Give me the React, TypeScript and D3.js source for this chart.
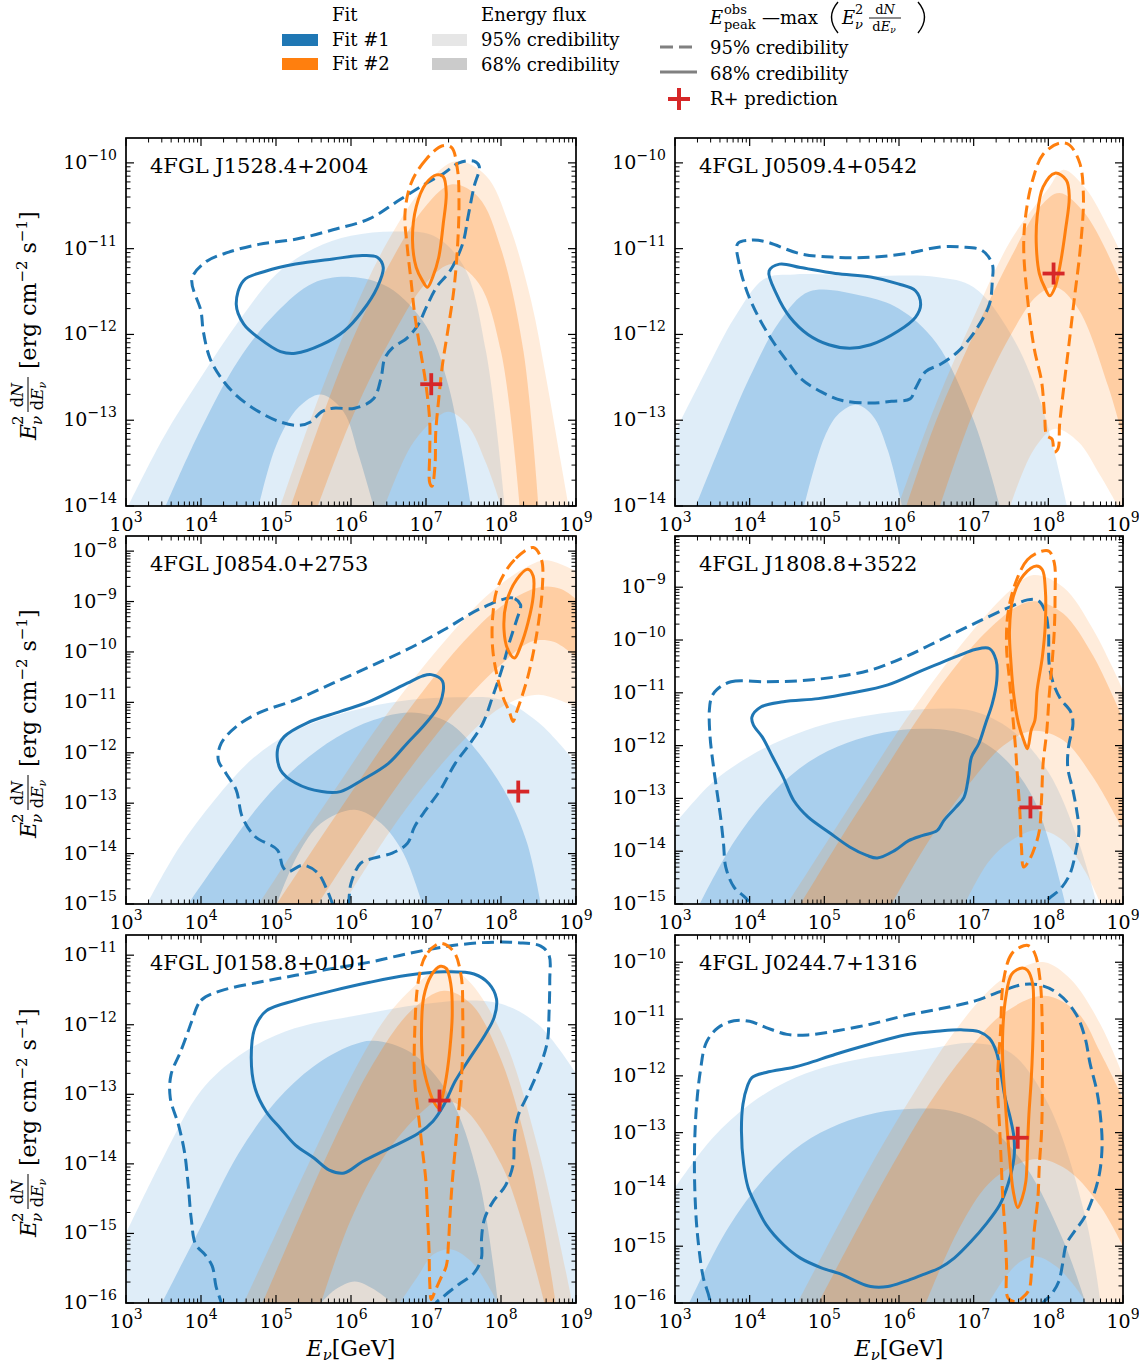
import React from "react";
import * as d3 from "d3";

type P = [number, number]; // [log10 E_nu / GeV, log10 flux / erg cm^-2 s^-1]

const FONT = "'DejaVu Serif', serif";
const BLUE = "#1f77b4";
const BAND_BLUE = "#1a7fcf";
const ORANGE = "#ff7f0e";
const RED = "#d62728";

const xTickExps = [3, 4, 5, 6, 7, 8, 9];

// ---------------- Panel 1 ----------------
const p1Name = "4FGL J1528.4+2004";
const p1YLog: P = [-14, -9.71];
const p1B95U: P[] = [[3.03,-14],[3.5,-13.2],[4,-12.5],[4.5,-11.85],[5,-11.3],[5.5,-11.0],[6,-10.85],[6.6,-10.8],[7.1,-10.85],[7.5,-11.2],[7.8,-12.2],[8.05,-14]];
const p1B68U: P[] = [[3.53,-14],[4,-13.1],[4.5,-12.3],[5,-11.75],[5.5,-11.4],[6,-11.33],[6.5,-11.45],[7,-11.9],[7.3,-12.6],[7.6,-14]];
const p1B68L: P[] = [[4.77,-14],[5.0,-13.3],[5.3,-12.85],[5.6,-12.7],[5.9,-12.9],[6.1,-13.4],[6.3,-14]];
const p1O95U: P[] = [[5.06,-14],[5.5,-12.9],[6,-11.8],[6.5,-10.9],[7,-10.25],[7.4,-9.98],[7.8,-10.15],[8.1,-10.7],[8.4,-11.6],[8.6,-12.5],[8.8,-13.5],[8.9,-14]];
const p1O95L: P[] = [[6.45,-14],[6.8,-13.3],[7.1,-13.0],[7.3,-12.9],[7.55,-13.05],[7.8,-13.5],[8.0,-14]];
const p1O68U: P[] = [[5.2,-14],[5.6,-13.0],[6,-12.1],[6.5,-11.2],[7,-10.5],[7.35,-10.25],[7.7,-10.4],[8.0,-11.0],[8.3,-12.2],[8.5,-14]];
const p1O68L: P[] = [[5.56,-14],[6,-13.0],[6.5,-12.1],[7,-11.4],[7.35,-11.18],[7.7,-11.4],[8.0,-12.2],[8.25,-14]];
const p1BlueDash: P[] = [[3.88,-11.35],[4.07,-11.15],[4.37,-11.04],[4.77,-10.95],[5.26,-10.89],[5.76,-10.78],[6.25,-10.65],[6.65,-10.43],[7.0,-10.24],[7.24,-10.12],[7.44,-10.0],[7.64,-9.98],[7.71,-10.04],[7.64,-10.28],[7.56,-10.63],[7.49,-10.94],[7.32,-11.26],[7.14,-11.45],[7.0,-11.69],[6.9,-11.88],[6.75,-12.04],[6.55,-12.16],[6.45,-12.28],[6.4,-12.51],[6.3,-12.75],[6.05,-12.86],[5.76,-12.86],[5.61,-12.9],[5.46,-13.02],[5.31,-13.06],[5.06,-13.02],[4.77,-12.9],[4.47,-12.71],[4.27,-12.51],[4.12,-12.28],[4.03,-11.96],[4.0,-11.73]];
const p1BlueSolid: P[] = [[4.47,-11.65],[4.57,-11.37],[4.87,-11.26],[5.26,-11.18],[5.76,-11.12],[6.15,-11.08],[6.35,-11.1],[6.43,-11.22],[6.35,-11.45],[6.15,-11.73],[5.91,-11.96],[5.61,-12.12],[5.26,-12.22],[5.06,-12.2],[4.77,-12.04],[4.57,-11.88]];
const p1OrangeDash: P[] = [[7.22,-9.8],[7.0,-9.96],[6.8,-10.24],[6.72,-10.59],[6.75,-10.98],[6.8,-11.37],[6.85,-11.77],[6.92,-12.16],[7.0,-12.59],[7.05,-13.02],[7.05,-13.37],[7.05,-13.73],[7.08,-13.77],[7.12,-13.53],[7.13,-13.14],[7.17,-12.75],[7.22,-12.35],[7.29,-11.96],[7.37,-11.49],[7.42,-10.98],[7.44,-10.47],[7.42,-10.08],[7.34,-9.82]];
const p1OrangeSolid: P[] = [[7.14,-10.14],[7.0,-10.24],[6.87,-10.51],[6.82,-10.9],[6.87,-11.22],[6.95,-11.37],[7.02,-11.45],[7.09,-11.33],[7.17,-11.1],[7.23,-10.71],[7.27,-10.35],[7.23,-10.16]];
const p1Cross: P = [7.07, -12.58];

// ---------------- Panel 2 ----------------
const p2Name = "4FGL J0509.4+0542";
const p2YLog: P = [-14, -9.71];
const p2B95U: P[] = [[3.0,-13.14],[3.4,-12.45],[3.8,-11.8],[4.2,-11.35],[4.6,-11.3],[5.5,-11.32],[6.5,-11.33],[7.0,-11.45],[7.5,-12.0],[7.9,-12.8],[8.25,-14]];
const p2B68U: P[] = [[3.28,-14],[3.7,-13.1],[4.0,-12.5],[4.4,-11.85],[4.8,-11.5],[5.5,-11.55],[6.0,-11.7],[6.5,-12.1],[7.0,-13.0],[7.35,-14]];
const p2B68L: P[] = [[4.73,-14],[5.0,-13.2],[5.2,-12.92],[5.43,-12.82],[5.65,-12.95],[5.85,-13.35],[6.04,-14]];
const p2O95U: P[] = [[5.99,-14],[6.5,-12.8],[7.0,-11.8],[7.5,-10.9],[8.0,-10.3],[8.2,-10.08],[8.5,-10.3],[8.8,-10.75],[9.0,-11.1]];
const p2O95L: P[] = [[7.49,-14],[7.8,-13.35],[8.09,-13.1],[8.4,-13.25],[8.7,-13.65],[8.93,-14]];
const p2O68U: P[] = [[6.1,-14],[6.5,-13.0],[7.0,-12.0],[7.5,-11.1],[7.9,-10.5],[8.15,-10.35],[8.5,-10.6],[9.0,-11.45]];
const p2O68L: P[] = [[6.55,-14],[7.0,-12.9],[7.5,-12.0],[7.85,-11.55],[8.1,-11.45],[8.4,-11.7],[8.8,-12.6],[9.0,-13.2]];
const p2BlueDash: P[] = [[3.84,-10.94],[4.03,-10.9],[4.22,-10.92],[4.68,-11.06],[5.15,-11.1],[5.62,-11.1],[6.08,-11.06],[6.55,-10.98],[6.83,-10.98],[7.11,-11.02],[7.25,-11.18],[7.25,-11.37],[7.21,-11.65],[7.02,-11.96],[6.79,-12.2],[6.55,-12.35],[6.36,-12.43],[6.22,-12.63],[6.15,-12.75],[5.9,-12.78],[5.62,-12.8],[5.24,-12.77],[4.96,-12.67],[4.68,-12.51],[4.5,-12.31],[4.31,-12.08],[4.12,-11.8],[3.96,-11.49],[3.86,-11.18]];
const p2BlueSolid: P[] = [[4.26,-11.26],[4.4,-11.18],[4.68,-11.22],[5.15,-11.29],[5.62,-11.33],[5.99,-11.41],[6.22,-11.49],[6.29,-11.65],[6.22,-11.8],[5.99,-11.96],[5.62,-12.12],[5.34,-12.16],[5.06,-12.12],[4.78,-12.0],[4.54,-11.8],[4.36,-11.53]];
const p2OrangeDash: P[] = [[8.15,-9.77],[7.93,-9.9],[7.79,-10.2],[7.7,-10.59],[7.67,-10.98],[7.72,-11.57],[7.81,-12.16],[7.91,-12.55],[7.95,-12.94],[7.98,-13.18],[8.05,-13.22],[8.08,-13.37],[8.13,-13.33],[8.15,-13.06],[8.21,-12.59],[8.27,-12.16],[8.35,-11.57],[8.43,-10.98],[8.47,-10.39],[8.42,-10.0],[8.28,-9.79]];
const p2OrangeSolid: P[] = [[8.09,-10.12],[7.93,-10.28],[7.85,-10.63],[7.84,-10.98],[7.88,-11.29],[7.95,-11.45],[8.02,-11.55],[8.09,-11.45],[8.16,-11.18],[8.23,-10.78],[8.28,-10.39],[8.24,-10.2]];
const p2Cross: P = [8.07, -11.29];

// ---------------- Panel 3 ----------------
const p3Name = "4FGL J0854.0+2753";
const p3YLog: P = [-15, -7.7];
const p3B95U: P[] = [[3.28,-15],[3.7,-13.9],[4.2,-12.9],[4.7,-12.1],[5.2,-11.6],[5.7,-11.3],[6.2,-11.1],[6.8,-10.95],[7.4,-10.9],[8.0,-10.95],[8.5,-11.4],[9.0,-12.2]];
const p3B68U: P[] = [[3.83,-15],[4.3,-14.0],[4.8,-13.0],[5.3,-12.25],[5.8,-11.7],[6.3,-11.35],[6.8,-11.2],[7.3,-11.4],[7.7,-12.0],[8.1,-12.9],[8.35,-13.8],[8.53,-15]];
const p3B68L: P[] = [[5.01,-15],[5.3,-14.0],[5.6,-13.4],[6.05,-13.13],[6.4,-13.4],[6.7,-14.0],[6.95,-15]];
const p3O95U: P[] = [[4.77,-15],[5.3,-13.8],[5.8,-12.7],[6.3,-11.6],[6.8,-10.6],[7.3,-9.7],[7.8,-8.9],[8.3,-8.35],[8.6,-8.18],[9.0,-8.4]];
const p3O95L: P[] = [[5.9,-15],[6.5,-13.6],[7.0,-12.6],[7.5,-11.75],[8.0,-11.1],[8.5,-10.85],[9.0,-11.1]];
const p3O68U: P[] = [[5.01,-15],[5.5,-13.9],[6.0,-12.8],[6.5,-11.7],[7.0,-10.7],[7.5,-9.8],[8.0,-9.1],[8.5,-8.72],[8.8,-8.75],[9.0,-8.95]];
const p3O68L: P[] = [[5.56,-15],[6.0,-14.0],[6.5,-12.9],[7.0,-11.9],[7.5,-11.0],[8.0,-10.25],[8.4,-9.8],[8.7,-9.8],[9.0,-10.1]];
const p3BlueDash: P[] = [[8.26,-9.06],[8.16,-8.93],[7.74,-9.13],[7.24,-9.56],[6.75,-9.95],[6.25,-10.29],[5.76,-10.62],[5.26,-10.95],[4.77,-11.21],[4.47,-11.48],[4.27,-11.81],[4.23,-12.14],[4.33,-12.4],[4.47,-12.74],[4.55,-13.27],[4.72,-13.66],[5.02,-13.93],[5.09,-14.26],[5.16,-14.36],[5.36,-14.23],[5.56,-14.39],[5.68,-14.72],[5.76,-15.02],[5.86,-15.4],[5.96,-15.02],[6.0,-14.59],[6.13,-14.19],[6.3,-14.09],[6.55,-13.99],[6.75,-13.8],[6.85,-13.46],[7.0,-13.13],[7.19,-12.74],[7.39,-12.21],[7.59,-11.81],[7.76,-11.41],[7.89,-10.88],[8.01,-10.35],[8.11,-9.82],[8.21,-9.36],[8.26,-9.13]];
const p3BlueSolid: P[] = [[7.07,-10.45],[7.22,-10.58],[7.19,-11.01],[7.0,-11.41],[6.75,-11.81],[6.5,-12.21],[6.15,-12.54],[5.86,-12.77],[5.61,-12.77],[5.26,-12.6],[5.06,-12.34],[5.02,-11.94],[5.11,-11.68],[5.41,-11.41],[5.86,-11.18],[6.25,-10.98],[6.75,-10.62],[6.95,-10.48]];
const p3OrangeDash: P[] = [[8.43,-7.93],[8.18,-8.17],[7.96,-8.7],[7.89,-9.29],[7.89,-9.95],[7.96,-10.55],[8.04,-10.95],[8.11,-11.18],[8.16,-11.38],[8.21,-11.18],[8.28,-10.88],[8.36,-10.48],[8.43,-10.02],[8.5,-9.42],[8.55,-8.76],[8.54,-8.17]];
const p3OrangeSolid: P[] = [[8.36,-8.36],[8.21,-8.56],[8.07,-9.03],[8.04,-9.56],[8.09,-9.95],[8.18,-10.12],[8.26,-9.89],[8.36,-9.42],[8.43,-8.89],[8.43,-8.5]];
const p3Cross: P = [8.23, -12.77];

// ---------------- Panel 4 ----------------
const p4Name = "4FGL J1808.8+3522";
const p4YLog: P = [-15, -8.03];
const p4B95U: P[] = [[3.0,-13.48],[3.5,-12.7],[4.0,-12.2],[4.5,-11.85],[5.0,-11.6],[5.5,-11.45],[6.0,-11.35],[6.5,-11.3],[7.0,-11.35],[7.5,-11.7],[8.0,-12.5],[8.4,-13.8],[8.65,-15]];
const p4B68U: P[] = [[3.33,-15],[3.8,-13.8],[4.3,-12.9],[4.8,-12.3],[5.3,-11.95],[5.8,-11.75],[6.3,-11.68],[6.8,-11.75],[7.3,-12.1],[7.8,-13.0],[8.23,-15]];
const p4O95U: P[] = [[4.5,-15],[5.0,-13.9],[5.5,-12.8],[6.0,-11.7],[6.5,-10.7],[7.0,-9.8],[7.5,-9.05],[7.8,-8.77],[8.2,-9.0],[8.6,-9.8],[9.0,-10.95]];
const p4O95L: P[] = [[6.88,-15],[7.2,-14.2],[7.5,-13.8],[7.86,-13.6],[8.2,-13.8],[8.5,-14.4],[8.7,-15]];
const p4O68U: P[] = [[4.68,-15],[5.2,-13.8],[5.7,-12.7],[6.2,-11.6],[6.7,-10.6],[7.2,-9.8],[7.6,-9.35],[7.85,-9.27],[8.2,-9.5],[8.6,-10.3],[9.0,-11.5]];
const p4O68L: P[] = [[5.9,-15],[6.4,-13.8],[6.9,-12.8],[7.4,-12.0],[7.8,-11.72],[8.2,-11.9],[8.6,-12.6],[9.0,-13.6]];
const p4BlueDash: P[] = [[3.56,-10.94],[3.75,-10.79],[4.22,-10.79],[4.68,-10.77],[5.15,-10.7],[5.62,-10.57],[6.08,-10.32],[6.55,-10.0],[7.02,-9.68],[7.49,-9.37],[7.72,-9.24],[7.86,-9.25],[7.95,-9.43],[8.0,-9.81],[8.01,-10.44],[8.06,-10.79],[8.16,-11.11],[8.3,-11.36],[8.33,-11.58],[8.27,-12.03],[8.26,-12.41],[8.33,-12.85],[8.38,-13.23],[8.41,-13.61],[8.37,-13.99],[8.29,-14.43],[8.16,-14.72],[7.98,-14.94],[7.88,-15.3],[4.07,-15.3],[3.98,-14.94],[3.79,-14.68],[3.68,-14.3],[3.65,-13.86],[3.61,-13.35],[3.56,-12.85],[3.51,-12.34],[3.47,-11.84],[3.46,-11.33],[3.49,-11.08]];
const p4BlueSolid: P[] = [[4.03,-11.46],[4.15,-11.27],[4.45,-11.17],[4.92,-11.11],[5.38,-11.0],[5.85,-10.85],[6.32,-10.57],[6.79,-10.3],[7.02,-10.18],[7.21,-10.16],[7.3,-10.38],[7.31,-10.76],[7.25,-11.2],[7.16,-11.58],[7.07,-11.96],[6.97,-12.22],[6.93,-12.6],[6.87,-12.98],[6.76,-13.17],[6.6,-13.42],[6.51,-13.61],[6.32,-13.7],[6.13,-13.8],[5.94,-13.99],[5.71,-14.13],[5.57,-14.08],[5.34,-13.92],[5.06,-13.64],[4.78,-13.35],[4.59,-13.04],[4.45,-12.6],[4.31,-12.22],[4.17,-11.84],[4.05,-11.61]];
const p4OrangeDash: P[] = [[7.91,-8.32],[7.72,-8.48],[7.56,-8.92],[7.46,-9.49],[7.44,-10.13],[7.48,-10.76],[7.52,-11.39],[7.56,-12.03],[7.59,-12.66],[7.62,-13.29],[7.64,-13.92],[7.67,-14.3],[7.74,-14.18],[7.82,-13.92],[7.88,-13.61],[7.91,-12.98],[7.93,-12.34],[7.98,-11.71],[8.01,-11.08],[8.05,-10.44],[8.08,-9.81],[8.09,-9.18],[8.08,-8.54],[8.01,-8.32]];
const p4OrangeSolid: P[] = [[7.84,-8.6],[7.67,-8.77],[7.53,-9.18],[7.48,-9.81],[7.5,-10.44],[7.54,-11.08],[7.6,-11.58],[7.67,-11.9],[7.72,-12.06],[7.77,-11.71],[7.82,-11.52],[7.85,-10.95],[7.92,-10.32],[7.96,-9.68],[7.96,-9.05],[7.92,-8.67]];
const p4Cross: P = [7.76, -13.17];

// ---------------- Panel 5 ----------------
const p5Name = "4FGL J0158.8+0101";
const p5YLog: P = [-16, -10.71];
const p5B95U: P[] = [[3.0,-15.0],[3.5,-13.9],[4.0,-12.95],[4.5,-12.45],[5.0,-12.15],[5.5,-11.98],[6.0,-11.88],[6.5,-11.78],[7.0,-11.7],[7.5,-11.65],[8.0,-11.7],[8.5,-12.0],[9.0,-12.7]];
const p5B68U: P[] = [[3.48,-16],[4.0,-14.9],[4.5,-13.85],[5.0,-13.1],[5.5,-12.6],[6.0,-12.3],[6.3,-12.23],[6.8,-12.4],[7.3,-13.0],[7.7,-14.2],[7.96,-16]];
const p5B68L: P[] = [[5.6,-16],[5.8,-15.8],[6.05,-15.69],[6.3,-15.8],[6.55,-16]];
const p5O95U: P[] = [[4.57,-16],[5.0,-15.0],[5.5,-13.85],[6.0,-12.75],[6.5,-11.85],[7.0,-11.3],[7.2,-11.17],[7.5,-11.3],[8.0,-12.1],[8.5,-13.8],[8.95,-16]];
const p5O95L: P[] = [[6.65,-16],[6.9,-15.6],[7.1,-15.3],[7.34,-15.23],[7.6,-15.4],[7.8,-15.7],[7.96,-16]];
const p5O68U: P[] = [[4.82,-16],[5.3,-14.8],[5.8,-13.6],[6.3,-12.55],[6.8,-11.8],[7.24,-11.51],[7.6,-11.7],[8.0,-12.5],[8.4,-14.0],[8.73,-16]];
const p5O68L: P[] = [[5.6,-16],[6.0,-14.8],[6.5,-13.8],[7.0,-13.2],[7.19,-13.08],[7.5,-13.2],[8.0,-14.0],[8.3,-14.9],[8.58,-16]];
const p5BlueDash: P[] = [[3.88,-11.94],[4.0,-11.65],[4.27,-11.51],[4.77,-11.39],[5.26,-11.29],[5.76,-11.19],[6.25,-11.1],[6.75,-10.98],[7.24,-10.88],[7.74,-10.82],[8.23,-10.82],[8.53,-10.87],[8.64,-11.0],[8.65,-11.36],[8.64,-11.85],[8.62,-12.23],[8.53,-12.57],[8.36,-13.0],[8.23,-13.3],[8.18,-13.59],[8.16,-14.02],[8.06,-14.31],[7.89,-14.55],[7.78,-14.79],[7.74,-15.08],[7.74,-15.35],[7.64,-15.57],[7.44,-15.73],[7.24,-15.9],[7.12,-16.02],[7.05,-16.3],[4.32,-16.3],[4.27,-16.0],[4.2,-15.76],[4.15,-15.47],[4.05,-15.3],[3.93,-15.16],[3.87,-14.79],[3.83,-14.31],[3.78,-13.83],[3.7,-13.44],[3.59,-13.05],[3.6,-12.72],[3.73,-12.38],[3.83,-12.09]];
const p5BlueSolid: P[] = [[4.72,-12.04],[4.87,-11.8],[5.26,-11.65],[5.76,-11.51],[6.25,-11.39],[6.75,-11.29],[7.24,-11.24],[7.64,-11.27],[7.84,-11.41],[7.94,-11.63],[7.91,-11.89],[7.79,-12.14],[7.59,-12.47],[7.39,-12.81],[7.24,-13.15],[7.09,-13.39],[6.9,-13.56],[6.5,-13.78],[6.15,-13.97],[5.91,-14.13],[5.71,-14.09],[5.51,-13.92],[5.26,-13.73],[5.06,-13.49],[4.87,-13.25],[4.72,-12.91],[4.67,-12.47]];
const p5OrangeDash: P[] = [[7.19,-10.83],[7.0,-11.0],[6.9,-11.36],[6.85,-12.09],[6.85,-12.81],[6.9,-13.3],[6.95,-13.78],[7.0,-14.26],[7.02,-14.74],[7.04,-15.23],[7.05,-15.71],[7.07,-15.95],[7.12,-15.83],[7.19,-15.66],[7.27,-15.47],[7.3,-15.13],[7.32,-14.74],[7.35,-14.26],[7.39,-13.78],[7.43,-13.3],[7.47,-12.81],[7.49,-12.33],[7.49,-11.85],[7.47,-11.31],[7.37,-10.95]];
const p5OrangeSolid: P[] = [[7.19,-11.16],[7.07,-11.29],[6.97,-11.6],[6.94,-12.09],[6.96,-12.57],[7.02,-12.86],[7.1,-13.1],[7.17,-13.2],[7.22,-13.03],[7.27,-12.76],[7.32,-12.33],[7.35,-11.85],[7.33,-11.41],[7.27,-11.19]];
const p5Cross: P = [7.18, -13.09];

// ---------------- Panel 6 ----------------
const p6Name = "4FGL J0244.7+1316";
const p6YLog: P = [-16, -9.52];
const p6B95U: P[] = [[3.0,-13.97],[3.5,-13.1],[4.0,-12.5],[4.5,-12.1],[5.0,-11.85],[5.5,-11.7],[6.0,-11.6],[6.5,-11.5],[7.0,-11.42],[7.5,-11.6],[8.0,-12.5],[8.5,-14.5],[8.7,-16]];
const p6B68U: P[] = [[3.19,-16],[3.7,-14.7],[4.2,-13.8],[4.7,-13.2],[5.2,-12.85],[5.7,-12.65],[6.2,-12.58],[6.7,-12.62],[7.2,-12.9],[7.7,-13.6],[8.2,-14.9],[8.5,-16]];
const p6O95U: P[] = [[4.64,-16],[5.2,-14.6],[5.7,-13.4],[6.2,-12.3],[6.7,-11.3],[7.2,-10.5],[7.6,-10.12],[7.95,-10.0],[8.3,-10.3],[8.7,-11.1],[9.0,-12.0]];
const p6O95L: P[] = [[7.2,-16],[7.45,-15.5],[7.65,-15.25],[7.84,-15.18],[8.1,-15.35],[8.35,-15.7],[8.51,-16]];
const p6O68U: P[] = [[4.92,-16],[5.4,-14.8],[5.9,-13.6],[6.4,-12.5],[6.9,-11.6],[7.4,-10.9],[7.95,-10.59],[8.4,-10.9],[8.7,-11.6],[9.0,-12.4]];
const p6O68L: P[] = [[6.36,-16],[6.8,-14.7],[7.2,-13.9],[7.6,-13.55],[7.91,-13.47],[8.3,-13.7],[8.7,-14.3],[9.0,-15.0]];
const p6BlueDash: P[] = [[3.49,-16.3],[3.46,-15.91],[3.38,-15.56],[3.32,-15.03],[3.28,-14.44],[3.26,-13.56],[3.28,-12.68],[3.34,-11.91],[3.42,-11.41],[3.58,-11.15],[3.79,-11.03],[4.0,-11.04],[4.22,-11.15],[4.5,-11.27],[4.78,-11.28],[5.15,-11.21],[5.62,-11.09],[6.08,-10.94],[6.55,-10.82],[7.02,-10.68],[7.39,-10.5],[7.67,-10.39],[7.91,-10.41],[8.14,-10.56],[8.37,-10.91],[8.49,-11.32],[8.56,-11.79],[8.65,-12.27],[8.7,-12.74],[8.72,-13.21],[8.69,-13.68],[8.61,-14.09],[8.48,-14.5],[8.35,-14.74],[8.24,-14.97],[8.19,-15.32],[8.14,-15.62],[8.04,-15.85],[7.93,-16.0],[7.86,-16.3]];
const p6BlueSolid: P[] = [[4.03,-12.03],[4.22,-11.94],[4.59,-11.85],[4.78,-11.78],[5.15,-11.62],[5.62,-11.44],[6.08,-11.28],[6.55,-11.21],[6.83,-11.19],[7.07,-11.22],[7.21,-11.34],[7.3,-11.56],[7.36,-11.91],[7.42,-12.38],[7.49,-12.74],[7.54,-13.09],[7.54,-13.44],[7.46,-13.91],[7.35,-14.27],[7.16,-14.62],[6.97,-14.91],[6.74,-15.21],[6.55,-15.38],[6.32,-15.5],[6.08,-15.62],[5.85,-15.71],[5.62,-15.71],[5.43,-15.62],[5.24,-15.5],[4.96,-15.38],[4.68,-15.21],[4.45,-14.97],[4.22,-14.62],[4.08,-14.27],[3.98,-13.97],[3.92,-13.56],[3.89,-12.97],[3.91,-12.5],[3.97,-12.18]];
const p6OrangeDash: P[] = [[7.67,-9.71],[7.51,-9.85],[7.4,-10.32],[7.36,-11.21],[7.32,-12.09],[7.35,-12.97],[7.37,-13.56],[7.39,-14.15],[7.42,-14.74],[7.44,-15.32],[7.46,-15.91],[7.56,-15.98],[7.65,-15.91],[7.74,-15.77],[7.78,-15.32],[7.81,-14.74],[7.86,-14.15],[7.88,-13.56],[7.91,-12.97],[7.92,-12.09],[7.92,-11.21],[7.89,-10.32],[7.82,-9.85],[7.74,-9.71]];
const p6OrangeSolid: P[] = [[7.65,-10.1],[7.51,-10.21],[7.43,-10.62],[7.39,-11.21],[7.39,-11.79],[7.42,-12.38],[7.45,-12.97],[7.49,-13.56],[7.53,-14.03],[7.59,-14.32],[7.65,-14.15],[7.7,-13.85],[7.72,-13.27],[7.74,-12.68],[7.77,-12.09],[7.79,-11.5],[7.8,-10.91],[7.79,-10.38],[7.72,-10.14]];
const p6Cross: P = [7.59, -13.09];

interface PanelCfg {
  name: string; yLog: P;
  b95u: P[]; b95l: P[] | null; b68u: P[]; b68l: P[] | null;
  o95u: P[]; o95l: P[] | null; o68u: P[]; o68l: P[] | null;
  bd: P[]; bs: P[]; od: P[]; os: P[]; cross: P;
}

const PANELS: PanelCfg[] = [
  { name: p1Name, yLog: p1YLog, b95u: p1B95U, b95l: null, b68u: p1B68U, b68l: p1B68L, o95u: p1O95U, o95l: p1O95L, o68u: p1O68U, o68l: p1O68L, bd: p1BlueDash, bs: p1BlueSolid, od: p1OrangeDash, os: p1OrangeSolid, cross: p1Cross },
  { name: p2Name, yLog: p2YLog, b95u: p2B95U, b95l: null, b68u: p2B68U, b68l: p2B68L, o95u: p2O95U, o95l: p2O95L, o68u: p2O68U, o68l: p2O68L, bd: p2BlueDash, bs: p2BlueSolid, od: p2OrangeDash, os: p2OrangeSolid, cross: p2Cross },
  { name: p3Name, yLog: p3YLog, b95u: p3B95U, b95l: null, b68u: p3B68U, b68l: p3B68L, o95u: p3O95U, o95l: p3O95L, o68u: p3O68U, o68l: p3O68L, bd: p3BlueDash, bs: p3BlueSolid, od: p3OrangeDash, os: p3OrangeSolid, cross: p3Cross },
  { name: p4Name, yLog: p4YLog, b95u: p4B95U, b95l: null, b68u: p4B68U, b68l: null, o95u: p4O95U, o95l: p4O95L, o68u: p4O68U, o68l: p4O68L, bd: p4BlueDash, bs: p4BlueSolid, od: p4OrangeDash, os: p4OrangeSolid, cross: p4Cross },
  { name: p5Name, yLog: p5YLog, b95u: p5B95U, b95l: null, b68u: p5B68U, b68l: p5B68L, o95u: p5O95U, o95l: p5O95L, o68u: p5O68U, o68l: p5O68L, bd: p5BlueDash, bs: p5BlueSolid, od: p5OrangeDash, os: p5OrangeSolid, cross: p5Cross },
  { name: p6Name, yLog: p6YLog, b95u: p6B95U, b95l: null, b68u: p6B68U, b68l: null, o95u: p6O95U, o95l: p6O95L, o68u: p6O68U, o68l: p6O68L, bd: p6BlueDash, bs: p6BlueSolid, od: p6OrangeDash, os: p6OrangeSolid, cross: p6Cross },
];

const COLS = [{ x: 126, w: 450 }, { x: 675, w: 448 }];
const ROWS = [138, 536, 935];
const PH = 368;

function supText(e: number) {
  return e < 0 ? "\u2212" + Math.abs(e) : String(e);
}

function Panel({ cfg, idx }: { cfg: PanelCfg; idx: number }) {
  const col = COLS[idx % 2];
  const x = col.x, w = col.w, y = ROWS[Math.floor(idx / 2)], h = PH;
  const xs = d3.scaleLog().domain([1e3, 1e9]).range([x, x + w]);
  const ys = d3.scaleLog().domain([10 ** cfg.yLog[0], 10 ** cfg.yLog[1]]).range([y + h, y]);
  const fx = (p: P) => xs(10 ** p[0]);
  const fy = (p: P) => ys(10 ** p[1]);
  const open = d3.line<P>().x(fx).y(fy).curve(d3.curveCatmullRom.alpha(0.5));
  const closed = d3.line<P>().x(fx).y(fy).curve(d3.curveCatmullRomClosed.alpha(0.5));
  const yb = y + h + 40;
  const shape = (pts: P[]) => {
    const a = pts[0], b = pts[pts.length - 1];
    return `${open(pts)}L${fx(b)},${yb}L${fx(a)},${yb}Z`;
  };
  const clipId = `clip${idx}`;
  const bands = [
    { up: cfg.b95u, lo: cfg.b95l, color: BAND_BLUE, op: 0.14 },
    { up: cfg.b68u, lo: cfg.b68l, color: BAND_BLUE, op: 0.27 },
    { up: cfg.o95u, lo: cfg.o95l, color: ORANGE, op: 0.15 },
    { up: cfg.o68u, lo: cfg.o68l, color: ORANGE, op: 0.27 },
  ];

  const yMin = cfg.yLog[0], yMax = cfg.yLog[1];
  const yMajors: number[] = [];
  for (let e = Math.ceil(yMin - 1e-6); e <= yMax + 1e-6; e++) yMajors.push(e);
  const yMinors: number[] = [];
  for (let e = Math.floor(yMin); e <= Math.floor(yMax); e++) {
    for (let m = 2; m <= 9; m++) {
      const v = e + Math.log10(m);
      if (v > yMin && v < yMax) yMinors.push(v);
    }
  }
  const xMinors: number[] = [];
  for (let e = 3; e < 9; e++) for (let m = 2; m <= 9; m++) xMinors.push(e + Math.log10(m));

  const tk = { stroke: "#000", strokeWidth: 1.2 };
  const cx = fx(cfg.cross), cy = fy(cfg.cross);

  return (
    <g>
      <defs>
        <clipPath id={clipId}><rect x={x} y={y} width={w} height={h} /></clipPath>
        {bands.map((b, i) => b.lo ? (
          <mask id={`m${idx}_${i}`} key={i} maskUnits="userSpaceOnUse" x={x - 10} y={y - 10} width={w + 20} height={h + 60}>
            <rect x={x - 10} y={y - 10} width={w + 20} height={h + 60} fill="#fff" />
            <path d={shape(b.lo)} fill="#000" />
          </mask>
        ) : null)}
      </defs>
      <g clipPath={`url(#${clipId})`}>
        {bands.map((b, i) => (
          <path key={i} d={shape(b.up)} fill={b.color} fillOpacity={b.op} mask={b.lo ? `url(#m${idx}_${i})` : undefined} />
        ))}
        <path d={closed(cfg.bd) || ""} fill="none" stroke={BLUE} strokeWidth={3} strokeDasharray="12,6" />
        <path d={closed(cfg.bs) || ""} fill="none" stroke={BLUE} strokeWidth={3} />
        <path d={closed(cfg.od) || ""} fill="none" stroke={ORANGE} strokeWidth={3} strokeDasharray="12,6" />
        <path d={closed(cfg.os) || ""} fill="none" stroke={ORANGE} strokeWidth={3} />
        <g stroke={RED} strokeWidth={3.8}>
          <line x1={cx - 11} x2={cx + 11} y1={cy} y2={cy} />
          <line x1={cx} x2={cx} y1={cy - 11} y2={cy + 11} />
        </g>
      </g>
      {xTickExps.map((e) => (
        <g key={"xm" + e} {...tk}>
          <line x1={xs(10 ** e)} x2={xs(10 ** e)} y1={y + h} y2={y + h - 8} />
          <line x1={xs(10 ** e)} x2={xs(10 ** e)} y1={y} y2={y + 8} />
        </g>
      ))}
      {xMinors.map((v, i) => (
        <g key={"xn" + i} {...tk} strokeWidth={1}>
          <line x1={xs(10 ** v)} x2={xs(10 ** v)} y1={y + h} y2={y + h - 4.5} />
          <line x1={xs(10 ** v)} x2={xs(10 ** v)} y1={y} y2={y + 4.5} />
        </g>
      ))}
      {yMajors.map((e) => (
        <g key={"ym" + e} {...tk}>
          <line x1={x} x2={x + 8} y1={ys(10 ** e)} y2={ys(10 ** e)} />
          <line x1={x + w} x2={x + w - 8} y1={ys(10 ** e)} y2={ys(10 ** e)} />
        </g>
      ))}
      {yMinors.map((v, i) => (
        <g key={"yn" + i} {...tk} strokeWidth={1}>
          <line x1={x} x2={x + 4.5} y1={ys(10 ** v)} y2={ys(10 ** v)} />
          <line x1={x + w} x2={x + w - 4.5} y1={ys(10 ** v)} y2={ys(10 ** v)} />
        </g>
      ))}
      <rect x={x} y={y} width={w} height={h} fill="none" stroke="#000" strokeWidth={1.7} />
      {xTickExps.map((e) => (
        <text key={"xl" + e} x={xs(10 ** e)} y={y + h + 25} textAnchor="middle" fontSize={19}>
          10<tspan dy={-9} fontSize={14}>{supText(e)}</tspan>
        </text>
      ))}
      {yMajors.map((e) => (
        <text key={"yl" + e} x={x - 9} y={ys(10 ** e) + 6} textAnchor="end" fontSize={19}>
          10<tspan dy={-9} fontSize={14}>{supText(e)}</tspan>
        </text>
      ))}
      <text x={x + 24} y={y + 35} fontSize={21}>{cfg.name}</text>
    </g>
  );
}

function YLabel({ cy }: { cy: number }) {
  return (
    <g transform={`translate(28,${cy}) rotate(-90)`}>
      <text x={-118} y={8} fontSize={22} fontStyle="italic">E</text>
      <text x={-103} y={-5} fontSize={15}>2</text>
      <text x={-103} y={14} fontSize={15} fontStyle="italic">ν</text>
      <text x={-73} y={-5} fontSize={16} textAnchor="middle">d<tspan fontStyle="italic">N</tspan></text>
      <line x1={-90} x2={-55} y1={0} y2={0} stroke="#000" strokeWidth={1} />
      <text x={-74} y={15} fontSize={16} textAnchor="middle">d<tspan fontStyle="italic">E</tspan><tspan fontSize={11} dy={3} fontStyle="italic">ν</tspan></text>
      <text x={-47} y={8} fontSize={22}>[erg cm<tspan fontSize={15} dy={-9}>−2</tspan><tspan dy={9}> s</tspan><tspan fontSize={15} dy={-9}>−1</tspan><tspan dy={9}>]</tspan></text>
    </g>
  );
}

function XLabel({ cx }: { cx: number }) {
  return (
    <text x={cx} y={1356} textAnchor="middle" fontSize={22}>
      <tspan fontStyle="italic">E</tspan><tspan fontSize={15} dy={4} fontStyle="italic">ν</tspan><tspan dy={-4}>[GeV]</tspan>
    </text>
  );
}

function Legend() {
  return (
    <g fontSize={18}>
      <text x={332} y={21}>Fit</text>
      <rect x={282} y={34} width={36} height={12} fill={BLUE} />
      <text x={332} y={46}>Fit #1</text>
      <rect x={282} y={58} width={36} height={12} fill={ORANGE} />
      <text x={332} y={70}>Fit #2</text>

      <text x={481} y={21}>Energy flux</text>
      <rect x={432} y={34} width={35} height={12} fill="#e6e6e6" />
      <text x={481} y={46}>95% credibility</text>
      <rect x={432} y={58} width={35} height={12} fill="#cbcbcb" />
      <text x={481} y={71}>68% credibility</text>

      <text x={710} y={24} fontStyle="italic">E</text>
      <text x={724} y={14} fontSize={13}>obs</text>
      <text x={724} y={29} fontSize={13}>peak</text>
      <text x={762} y={24}>—max</text>
      <path d="M838,2 Q825,17 838,33" fill="none" stroke="#000" strokeWidth={1.4} />
      <text x={842} y={24} fontStyle="italic">E</text>
      <text x={855} y={14} fontSize={13}>2</text>
      <text x={855} y={29} fontSize={13} fontStyle="italic">ν</text>
      <text x={885} y={14} fontSize={13} textAnchor="middle">d<tspan fontStyle="italic">N</tspan></text>
      <line x1={869} x2={901} y1={18} y2={18} stroke="#000" strokeWidth={0.9} />
      <text x={884} y={31} fontSize={13} textAnchor="middle">d<tspan fontStyle="italic">E</tspan><tspan fontSize={9} dy={2} fontStyle="italic">ν</tspan></text>
      <path d="M918,2 Q931,17 918,33" fill="none" stroke="#000" strokeWidth={1.4} />

      <line x1={660} x2={697} y1={47} y2={47} stroke="#808080" strokeWidth={3.2} strokeDasharray="13,6" />
      <text x={710} y={54}>95% credibility</text>
      <line x1={660} x2={697} y1={72} y2={72} stroke="#808080" strokeWidth={3.2} />
      <text x={710} y={80}>68% credibility</text>
      <g stroke={RED} strokeWidth={4}>
        <line x1={668} x2={690} y1={99} y2={99} />
        <line x1={679} x2={679} y1={88} y2={110} />
      </g>
      <text x={710} y={105}>R+ prediction</text>
    </g>
  );
}

export default function App() {
  return (
    <svg width={1139} height={1366} style={{ position: "absolute", left: 0, top: 0, background: "#fff" }} fontFamily={FONT} fill="#000">
      <rect x={0} y={0} width={1139} height={1366} fill="#fff" />
      <Legend />
      {PANELS.map((p, i) => <Panel key={i} cfg={p} idx={i} />)}
      <YLabel cy={322} />
      <YLabel cy={720} />
      <YLabel cy={1119} />
      <XLabel cx={351} />
      <XLabel cx={899} />
    </svg>
  );
}
